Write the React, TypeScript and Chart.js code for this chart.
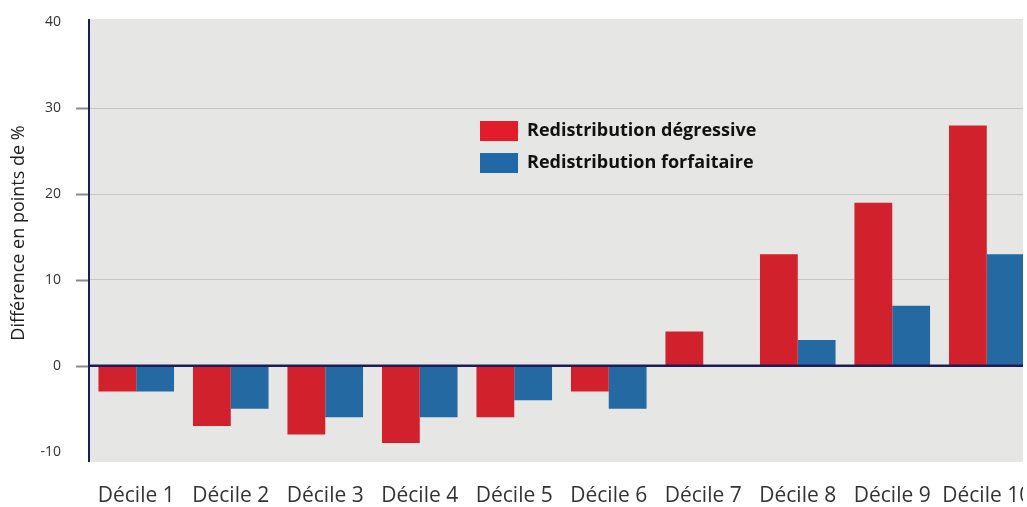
import React, { useEffect, useRef } from "react";
import { Chart, registerables } from "chart.js";

Chart.register(...registerables);

const categories = ["Décile 1", "Décile 2", "Décile 3", "Décile 4", "Décile 5", "Décile 6", "Décile 7", "Décile 8", "Décile 9", "Décile 10"];
const degressive = [-3, -7, -8, -9, -6, -3, 4, 13, 19, 28];
const forfaitaire = [-3, -5, -6, -6, -4, -5, 0, 3, 7, 13];
const seriesLabels = ["Redistribution dégressive", "Redistribution forfaitaire"];
const yTicks = [-10, 0, 10, 20, 30, 40];
const gridTicks = [10, 20, 30];
const markTicks = [0, 10, 20, 30];
const yTitle = "Différence en points de %";

const FONT = "'Open Sans', 'Noto Sans', sans-serif";
const RED = "#d0212c";
const BLUE = "#2469a2";
const LEG_RED = "#e21d2b";
const LEG_BLUE = "#2168a8";
const NAVY = "#1e1c58";
const BG = "#e6e7e5";
const CLEAR = "rgba(0,0,0,0)";

const decorPlugin = {
  id: "decor",
  beforeDraw(chart: any) {
    const { ctx, chartArea } = chart;
    ctx.save();
    ctx.fillStyle = BG;
    ctx.fillRect(chartArea.left, chartArea.top, chartArea.right - chartArea.left, chartArea.bottom - chartArea.top);
    ctx.restore();
  },
  afterDatasetsDraw(chart: any) {
    const { ctx, chartArea, scales } = chart;
    const y0 = scales.y.getPixelForValue(0);
    ctx.save();
    // tick marks
    ctx.strokeStyle = "#8a8a8a";
    ctx.lineWidth = 2;
    markTicks.forEach((v) => {
      const py = Math.round(scales.y.getPixelForValue(v)) + 0.5;
      ctx.beginPath();
      ctx.moveTo(chartArea.left - 13, py);
      ctx.lineTo(chartArea.left, py);
      ctx.stroke();
    });
    ctx.strokeStyle = NAVY;
    ctx.lineWidth = 2.5;
    ctx.beginPath();
    ctx.moveTo(chartArea.left, y0);
    ctx.lineTo(chartArea.right, y0);
    ctx.stroke();
    // y axis line
    ctx.lineWidth = 2;
    ctx.beginPath();
    ctx.moveTo(chartArea.left, chartArea.top);
    ctx.lineTo(chartArea.left, chartArea.bottom);
    ctx.stroke();
    // legend
    const legColors = [LEG_RED, LEG_BLUE];
    chart.data.datasets.forEach((ds: any, i: number) => {
      const bx = 480;
      const by = 121 + i * 32;
      ctx.fillStyle = legColors[i];
      ctx.fillRect(bx, by, 38, 20);
      ctx.fillStyle = "#111";
      ctx.font = `bold 18px ${FONT}`;
      ctx.textBaseline = "middle";
      ctx.textAlign = "left";
      ctx.fillText(ds.label, 527, by + 10);
    });
    // y title
    ctx.translate(19, 233);
    ctx.rotate(-Math.PI / 2);
    ctx.fillStyle = "#222";
    ctx.font = `18px ${FONT}`;
    ctx.textAlign = "center";
    ctx.textBaseline = "middle";
    ctx.fillText(yTitle, 0, 0);
    ctx.restore();
  },
};

export default function App() {
  const ref = useRef<HTMLCanvasElement>(null);
  useEffect(() => {
    if (!ref.current) return;
    const chart = new Chart(ref.current, {
      type: "bar",
      data: {
        labels: categories,
        datasets: [
          { label: seriesLabels[0], data: degressive, backgroundColor: RED, borderWidth: 0 },
          { label: seriesLabels[1], data: forfaitaire, backgroundColor: BLUE, borderWidth: 0 },
        ],
      },
      options: {
        animation: false,
        responsive: false,
        maintainAspectRatio: false,
        layout: { padding: { top: 19, right: 0, left: 0, bottom: 0 } },
        plugins: { legend: { display: false }, tooltip: { enabled: false } },
        datasets: { bar: { categoryPercentage: 0.8, barPercentage: 1.0 } },
        scales: {
          x: {
            grid: { display: true, color: CLEAR, tickColor: CLEAR, drawTicks: true, tickLength: 21 },
            border: { display: false },
            ticks: { color: "#333", font: { family: FONT, size: 21 }, padding: 0, maxRotation: 0, autoSkip: false },
            afterFit: (s: any) => { s.height = 45; },
          },
          y: {
            min: -11.2,
            max: 40.4,
            afterBuildTicks: (s: any) => { s.ticks = yTicks.map((v) => ({ value: v })); },
            grid: {
              color: (c: any) => (c.tick && gridTicks.includes(c.tick.value) ? "#c6c6c4" : CLEAR),
              tickColor: CLEAR,
              tickLength: 28,
              lineWidth: 1,
            },
            border: { display: false },
            ticks: { color: "#333", font: { family: FONT, size: 14 }, padding: 0 },
            afterFit: (s: any) => { s.width = 89; },
          },
        },
      },
      plugins: [decorPlugin],
    });
    return () => chart.destroy();
  }, []);
  return (
    <div style={{ position: "fixed", left: 0, top: 0, width: 1023, height: 507, overflow: "hidden", background: "#fff" }}>
      <div style={{ width: 1034, height: 507 }}>
        <canvas ref={ref} width={1034} height={507} style={{ width: 1034, height: 507 }} />
      </div>
    </div>
  );
}
